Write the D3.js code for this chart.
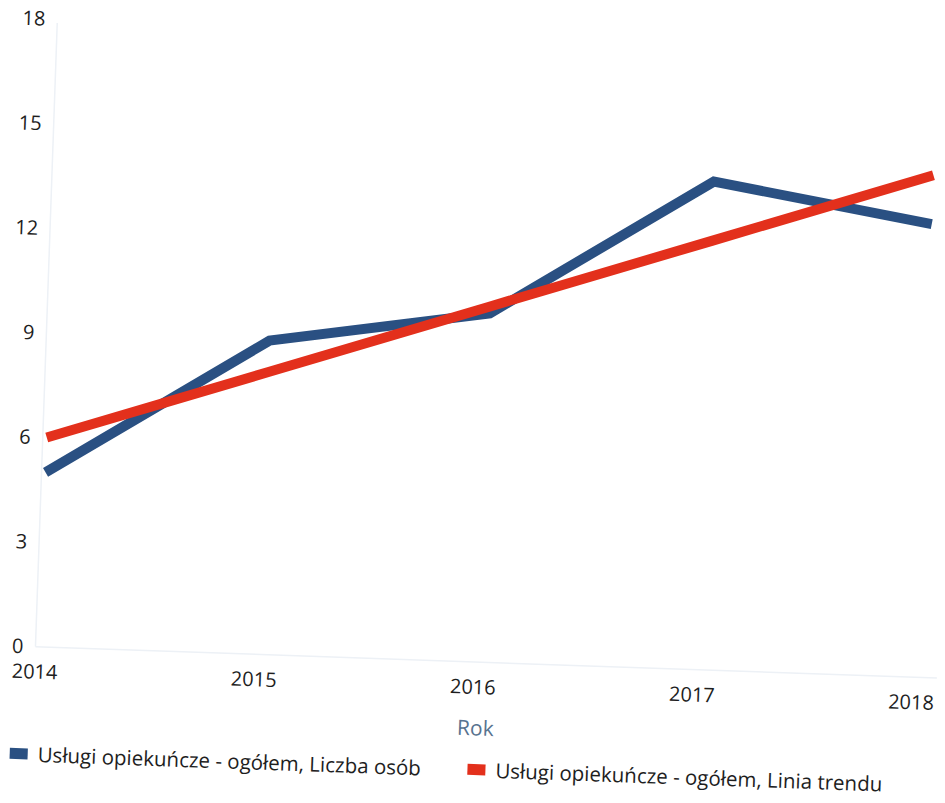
<!DOCTYPE html>
<html>
<head>
<meta charset="utf-8">
<script src="https://cdn.jsdelivr.net/npm/d3@7"></script>
<style>
  html, body { margin: 0; padding: 0; background: #fff; }
  svg { display: block; font-family: "Open Sans", "Noto Sans", sans-serif; }
</style>
</head>
<body>
<svg id="line_svg"></svg>
<script>
const years = ["2014", "2015", "2016", "2017", "2018"];
const liczbaOsob = [5, 9, 10, 14, 13];
const liniaTrendu = [6.0, 8.1, 10.2, 12.3, 14.4];
const yTicks = [0, 3, 6, 9, 12, 15, 18];
const seriesNames = [
  "Usługi opiekuńcze - ogółem, Liczba osób",
  "Usługi opiekuńcze - ogółem, Linia trendu"
];
const seriesColors = ["#2a5082", "#e3301c"];
const xTitle = "Rok";

const width = 945, height = 803;
const svg = d3.select("#line_svg").attr("width", width).attr("height", height);

// the reference is a scan that sits a little tilted, so the whole chart is turned
const mainGroup = svg.append("g").attr("transform", "rotate(2)");

const xScale = d3.scalePoint().domain(years).range([62, 939]);
const yScale = d3.scaleLinear().domain([0, 18]).range([645, 17]);

// axis lines
mainGroup.append("line")
  .attr("x1", 58).attr("x2", 58)
  .attr("y1", yScale(18) + 4).attr("y2", yScale(0))
  .attr("stroke", "#edf1f6").attr("stroke-width", 1.5);
mainGroup.append("line")
  .attr("x1", 58).attr("x2", 960)
  .attr("y1", yScale(0)).attr("y2", yScale(0))
  .attr("stroke", "#edf1f6").attr("stroke-width", 1.5);

// y tick labels
mainGroup.selectAll(".ytick").data(yTicks).join("text")
  .attr("class", "ytick")
  .attr("x", 46)
  .attr("y", d => yScale(d))
  .attr("dy", "0.35em")
  .attr("text-anchor", "end")
  .attr("fill", "#1e1e1e")
  .style("font-size", "20px")
  .text(d => d);

// x tick labels
mainGroup.selectAll(".xtick").data(years).join("text")
  .attr("class", "xtick")
  .attr("x", d => xScale(d) - 4)
  .attr("y", yScale(0) + 25)
  .attr("dy", "0.35em")
  .attr("text-anchor", "middle")
  .attr("fill", "#1e1e1e")
  .style("font-size", "20px")
  .text(d => d);

mainGroup.append("text")
  .attr("x", (xScale.range()[0] + xScale.range()[1]) / 2)
  .attr("y", yScale(0) + 66)
  .attr("dy", "0.35em")
  .attr("text-anchor", "middle")
  .attr("fill", "#587390")
  .style("font-size", "21px")
  .text(xTitle);

// lines, trend drawn on top
const line = d3.line()
  .x((d, i) => xScale(years[i]))
  .y(d => yScale(d));

[liczbaOsob, liniaTrendu].forEach((values, k) => {
  mainGroup.append("path")
    .datum(values)
    .attr("d", line)
    .attr("fill", "none")
    .attr("stroke", seriesColors[k])
    .attr("stroke-width", 10)
    .attr("stroke-linejoin", "miter")
    .attr("stroke-linecap", "butt");
});

// legend
const legendX = [36, 494];
const legend = mainGroup.selectAll(".legend").data(seriesNames).join("g")
  .attr("class", "legend")
  .attr("transform", (d, i) => `translate(${legendX[i]}, 753)`);
legend.append("rect")
  .attr("x", 0).attr("y", -6)
  .attr("width", 18).attr("height", 11)
  .attr("fill", (d, i) => seriesColors[i]);
legend.append("text")
  .attr("x", 28)
  .attr("y", 0)
  .attr("dy", "0.35em")
  .attr("fill", "#1e1e1e")
  .style("font-size", "20.5px")
  .text(d => d);
</script>
</body>
</html>
